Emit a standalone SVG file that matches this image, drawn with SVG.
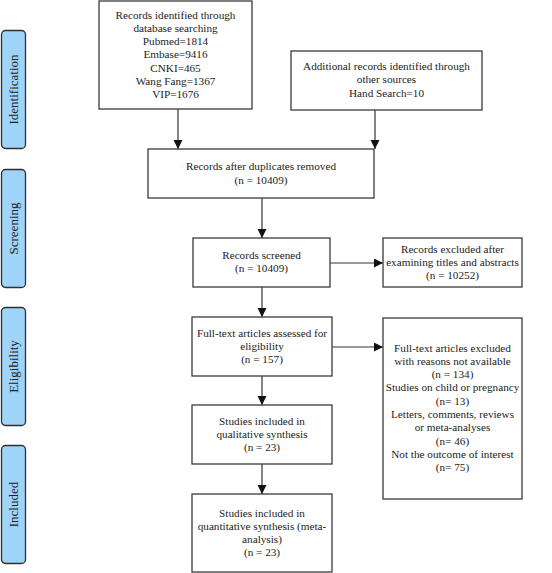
<svg xmlns="http://www.w3.org/2000/svg" width="552" height="573" viewBox="0 0 552 573">
<style>
.box{fill:#fff;stroke:#3a3a3a;stroke-width:1.3}
.side{fill:#9fd3f7;stroke:#2f2f2f;stroke-width:1.3}
.t{font-family:"Liberation Serif","Times New Roman",serif;font-size:11.2px;fill:#222;text-anchor:middle}
.st{font-family:"Liberation Serif","Times New Roman",serif;font-size:13px;fill:#222;text-anchor:middle}
.c{stroke:#333;stroke-width:1.2;fill:none;marker-end:url(#ah)}
</style>
<defs>
<marker id="ah" markerWidth="10" markerHeight="10" refX="9" refY="4.5" orient="auto" markerUnits="userSpaceOnUse">
<path d="M0,0 L9,4.5 L0,9 z" fill="#111"/>
</marker>
</defs>
<rect width="552" height="573" fill="#fff"/>
<g id="phase-identification"><rect class="side" x="1.5" y="30.5" width="24" height="118" rx="4"/><text class="st" transform="translate(18,89.5) rotate(-90)">Identification</text></g>
<g id="phase-screening"><rect class="side" x="1.5" y="169.5" width="24" height="118" rx="4"/><text class="st" transform="translate(18,228.5) rotate(-90)">Screening</text></g>
<g id="phase-eligibility"><rect class="side" x="1.5" y="307.5" width="24" height="118" rx="4"/><text class="st" transform="translate(18,366.5) rotate(-90)">Eligibility</text></g>
<g id="phase-included"><rect class="side" x="1.5" y="445.5" width="24" height="118" rx="4"/><text class="st" transform="translate(18,504.5) rotate(-90)">Included</text></g>

<g id="connectors">
<line class="c" x1="178" y1="109" x2="178" y2="149"/>
<line class="c" x1="375" y1="110" x2="375" y2="149"/>
<line class="c" x1="262" y1="198" x2="262" y2="238"/>
<line class="c" x1="330" y1="263" x2="383" y2="263"/>
<line class="c" x1="262" y1="287" x2="262" y2="317"/>
<line class="c" x1="332" y1="347" x2="383" y2="347"/>
<line class="c" x1="262" y1="376" x2="262" y2="405"/>
<line class="c" x1="262" y1="464" x2="262" y2="494"/>
</g>

<g id="db-search"><rect class="box" x="99" y="1" width="153" height="108"/>
<text class="t" x="175.5" y="18.5">Records identified through</text>
<text class="t" x="175.5" y="31.8">database searching</text>
<text class="t" x="175.5" y="45.1">Pubmed=1814</text>
<text class="t" x="175.5" y="58.4">Embase=9416</text>
<text class="t" x="175.5" y="71.7">CNKI=465</text>
<text class="t" x="175.5" y="85">Wang Fang=1367</text>
<text class="t" x="175.5" y="98.3">VIP=1676</text></g>

<g id="other-sources"><rect class="box" x="291" y="51" width="191" height="59"/>
<text class="t" x="386.5" y="70">Additional records identified through</text>
<text class="t" x="386.5" y="83.3">other sources</text>
<text class="t" x="386.5" y="96.6">Hand Search=10</text></g>

<g id="duplicates-removed"><rect class="box" x="148" y="149" width="226" height="49"/>
<text class="t" x="261" y="170">Records after duplicates removed</text>
<text class="t" x="261" y="184">(n = 10409)</text></g>

<g id="screened"><rect class="box" x="193" y="238" width="137" height="49"/>
<text class="t" x="261.5" y="259">Records screened</text>
<text class="t" x="261.5" y="272">(n = 10409)</text></g>

<g id="excluded-titles"><rect class="box" x="383" y="238" width="139" height="49"/>
<text class="t" x="452.5" y="252.5">Records excluded after</text>
<text class="t" x="452.5" y="265.5">examining titles and abstracts</text>
<text class="t" x="452.5" y="279">(n = 10252)</text></g>

<g id="full-text"><rect class="box" x="192" y="317" width="140" height="59"/>
<text class="t" x="262" y="336.5">Full-text articles assessed for</text>
<text class="t" x="262" y="349.8">eligibility</text>
<text class="t" x="262" y="363.1">(n = 157)</text></g>

<g id="full-text-excluded"><rect class="box" x="383" y="318" width="139" height="181"/>
<text class="t" x="452.5" y="351.5">Full-text articles excluded</text>
<text class="t" x="452.5" y="364.8">with reasons not available</text>
<text class="t" x="452.5" y="378.1">(n = 134)</text>
<text class="t" x="452.5" y="391.4">Studies on child or pregnancy</text>
<text class="t" x="452.5" y="404.7">(n= 13)</text>
<text class="t" x="452.5" y="418">Letters, comments, reviews</text>
<text class="t" x="452.5" y="431.3">or meta-analyses</text>
<text class="t" x="452.5" y="444.6">(n= 46)</text>
<text class="t" x="452.5" y="457.9">Not the outcome of interest</text>
<text class="t" x="452.5" y="471.2">(n= 75)</text></g>

<g id="qualitative"><rect class="box" x="192" y="405" width="140" height="59"/>
<text class="t" x="262" y="424.5">Studies included in</text>
<text class="t" x="262" y="437.8">qualitative synthesis</text>
<text class="t" x="262" y="451.1">(n = 23)</text></g>

<g id="quantitative"><rect class="box" x="192" y="494" width="140" height="78"/>
<text class="t" x="262" y="516.5">Studies included in</text>
<text class="t" x="262" y="529.8">quantitative synthesis (meta-</text>
<text class="t" x="262" y="543.1">analysis)</text>
<text class="t" x="262" y="556.4">(n = 23)</text></g>
</svg>
